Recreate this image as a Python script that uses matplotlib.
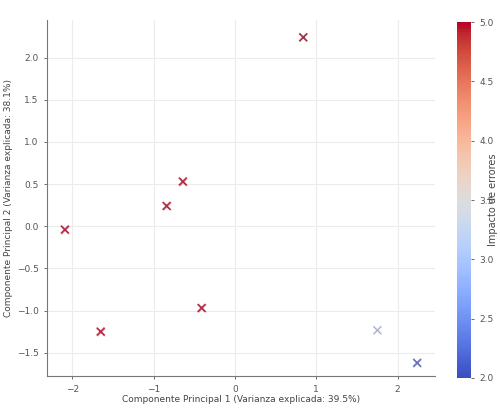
import numpy as np
from matplotlib import pyplot as plt

# PCA scores
pc1 = [0.84, -2.09, -1.65, -0.84, -0.64, -0.41, 1.75, 2.24]
pc2 = [2.24, -0.04, -1.25, 0.24, 0.53, -0.97, -1.23, -1.62]
impacto = [5.0, 5.0, 5.0, 5.0, 5.0, 5.0, 3.3, 2.2]

xticks = [-2, -1, 0, 1, 2]
yticks = [-1.5, -1.0, -0.5, 0.0, 0.5, 1.0, 1.5, 2.0]
cticks = [2.0, 2.5, 3.0, 3.5, 4.0, 4.5, 5.0]

plt.rcParams['font.size'] = 6.5

fig = plt.figure(figsize=(5, 4.09), dpi=100)
ax = fig.add_axes([0.094, 0.08, 0.776, 0.87])
cax = fig.add_axes([0.914, 0.076, 0.028, 0.87])

sc = ax.scatter(pc1, pc2, c=impacto, cmap='coolwarm', vmin=2.0, vmax=5.0,
                marker='x', s=32, linewidths=1.3, zorder=3)
# darken the crosses a bit, they look muddy in the original
sc.set_alpha(0.8)
ax.scatter(pc1, pc2, color='#3a2a30', marker='x', s=32, linewidths=0.6,
           alpha=0.35, zorder=4)

ax.set_xlim(-2.31, 2.46)
ax.set_ylim(-1.78, 2.44)
ax.set_xticks(xticks)
ax.set_yticks(yticks)
ax.grid(color='#ececec', linewidth=0.8, zorder=0)
for s in ('top', 'right'):
    ax.spines[s].set_visible(False)
for s in ('left', 'bottom'):
    ax.spines[s].set_color('#777777')
ax.tick_params(colors='#555555', length=2.5, width=0.6)
ax.set_xlabel('Componente Principal 1 (Varianza explicada: 39.5%)', color='#444444', labelpad=1)
ax.set_ylabel('Componente Principal 2 (Varianza explicada: 38.1%)', color='#444444', labelpad=3)

cb = fig.colorbar(sc, cax=cax)
cb.solids.set_alpha(1)
cb.set_ticks(cticks)
cb.outline.set_visible(False)
cb.ax.tick_params(colors='#555555', length=2.5, width=0.6)
cb.set_label('Impacto de errores', color='#444444', fontsize=7, labelpad=-4)

fig.savefig('out.png', dpi=100)
